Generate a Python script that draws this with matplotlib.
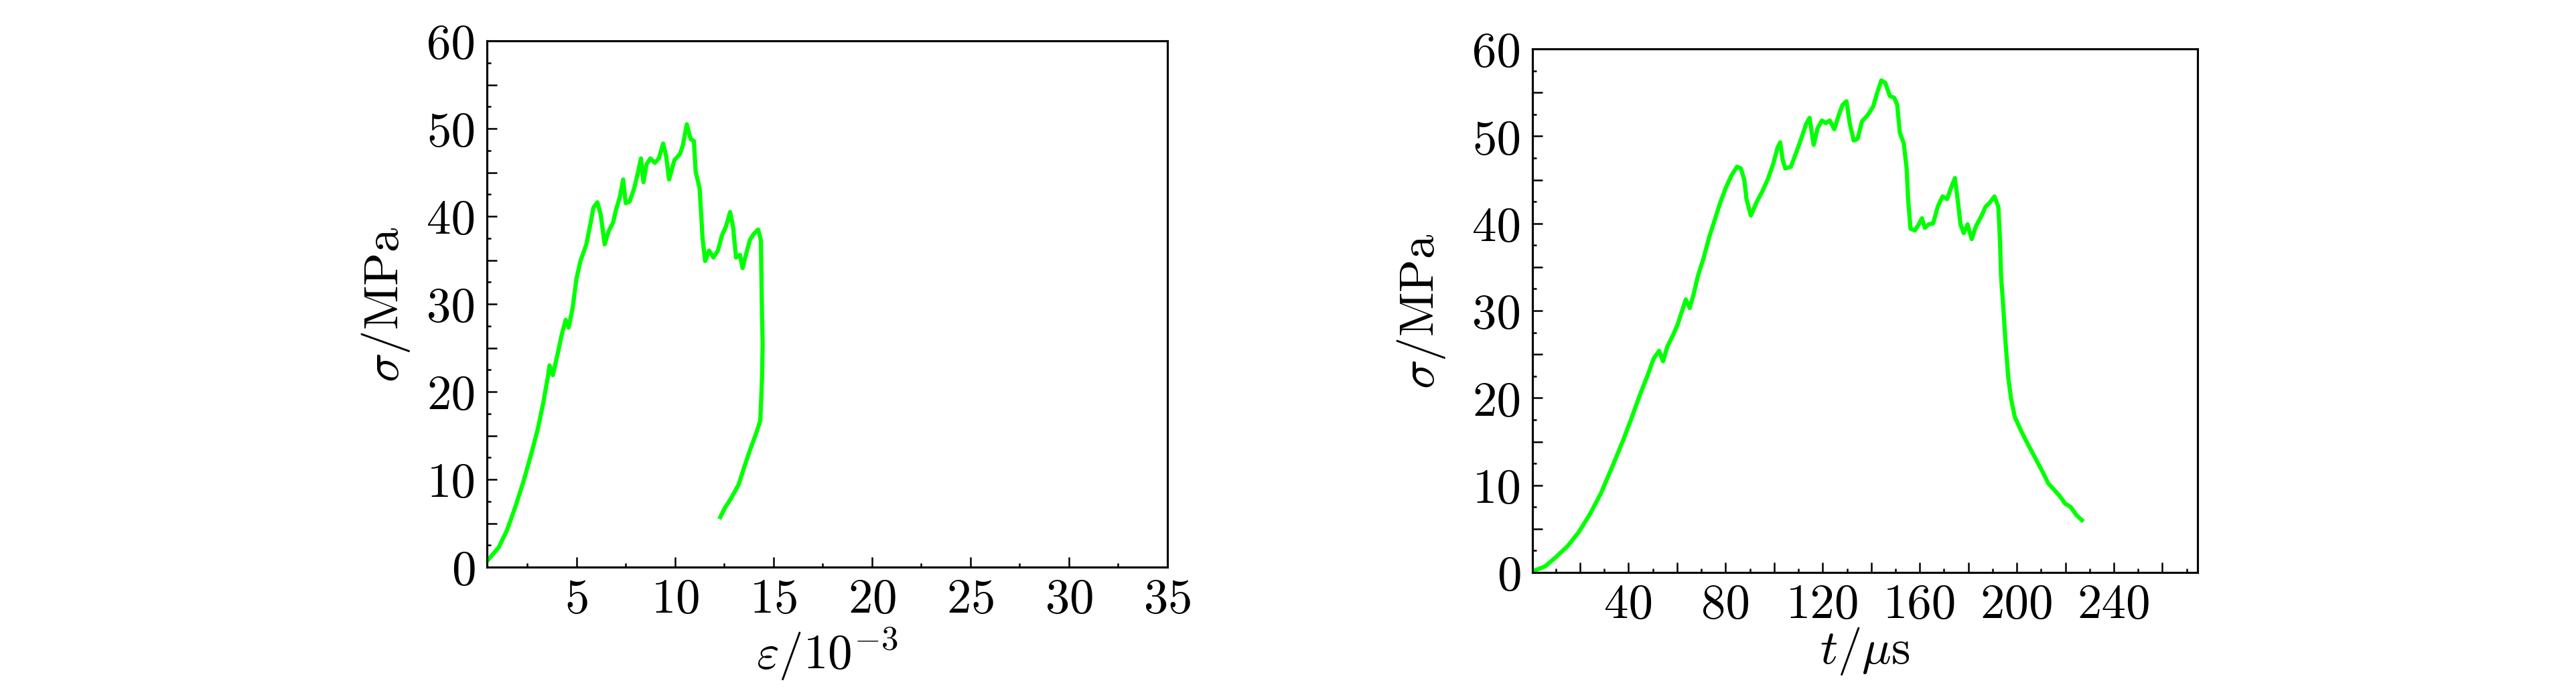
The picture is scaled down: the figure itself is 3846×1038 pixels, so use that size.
import numpy as np
import matplotlib
matplotlib.use("Agg")
import matplotlib.pyplot as plt
from matplotlib.ticker import MultipleLocator, FuncFormatter

plt.rcParams['font.family'] = 'cmr10'
plt.rcParams['mathtext.fontset'] = 'cm'
plt.rcParams['axes.formatter.use_mathtext'] = True

# stress-strain curve (strain in 1e-3, stress in MPa)
strain = [0.5, 1.05, 1.47, 1.9, 2.32, 2.75, 3.03, 3.31, 3.54, 3.63, 3.8, 4.02, 4.25, 4.45, 4.6,
          4.8, 5.0, 5.2, 5.5, 5.72, 5.86, 6.06, 6.23, 6.43, 6.63, 6.86, 7.0, 7.2, 7.37, 7.5,
          7.7, 7.93, 8.13, 8.27, 8.4, 8.55, 8.75, 8.98, 9.18, 9.4, 9.55, 9.7, 9.97, 10.25, 10.4,
          10.6, 10.8, 10.96, 11.05, 11.25, 11.33, 11.4, 11.53, 11.73, 11.95, 12.18, 12.38, 12.58,
          12.8, 12.95, 13.1, 13.3, 13.43, 13.6, 13.8, 14.0, 14.22, 14.36, 14.42, 14.45, 14.42,
          14.33, 14.08, 13.8, 13.5, 13.23, 12.86, 12.52, 12.3]
stress1 = [0.8, 2.25, 4.2, 6.9, 9.85, 13.3, 15.7, 18.7, 21.6, 23.0, 21.9, 24.1, 26.5, 28.2, 27.3,
           29.5, 32.9, 34.9, 36.8, 39.3, 41.0, 41.6, 40.2, 36.8, 38.3, 39.3, 40.7, 42.2, 44.2, 41.5,
           41.7, 43.2, 45.1, 46.6, 43.9, 45.9, 46.6, 46.1, 46.6, 48.3, 46.9, 44.2, 46.4, 47.1, 48.1,
           50.5, 48.8, 48.6, 45.1, 43.2, 40.2, 37.5, 34.9, 36.1, 35.3, 36.1, 37.8, 38.8,
           40.5, 38.8, 35.3, 35.6, 34.1, 35.6, 37.3, 38.0, 38.5, 37.3, 28.5, 25.5, 21.6,
           16.7, 15.0, 13.3, 11.3, 9.4, 7.9, 6.7, 5.7]

# stress-time curve (time in us, stress in MPa)
time = [1.05, 5.6, 10.2, 14.8, 19.4, 23.9, 28.5, 33.1, 37.7, 41.1, 44.6, 48.0, 50.3, 52.6, 54.2,
        56.0, 58.3, 60.2, 62.2, 63.6, 65.2, 67.0, 68.6, 70.9, 73.2, 75.5, 77.8, 80.1, 82.4, 84.7,
        86.3, 87.7, 88.6, 90.4, 92.7, 95.0, 97.3, 99.6, 101.4, 102.5, 103.5, 104.6, 106.9, 109.2,
        111.5, 113.2, 114.6, 116.3, 117.9, 119.7, 121.3, 122.9, 124.8, 126.6, 128.2, 129.8, 131.2,
        132.8, 134.4, 136.2, 138.5, 140.8, 142.6, 144.2, 145.8, 147.7, 149.5, 150.7, 151.8, 153.4,
        154.6, 155.2, 156.2, 158.0, 159.6, 160.9, 162.1, 163.7, 165.5, 167.4, 169.4, 171.3, 172.9,
        174.5, 175.6, 176.8, 178.1, 179.7, 181.4, 183.2, 185.5, 187.1, 188.9, 190.8, 192.4, 193.1,
        193.5, 194.5, 195.4, 196.5, 197.7, 199.2, 201.5, 203.8, 206.1, 208.4, 210.7, 213.0, 215.3,
        217.6, 219.9, 222.2, 224.5, 226.8]
stress2 = [0.2, 0.7, 1.8, 3.0, 4.6, 6.6, 9.0, 12.0, 15.1, 17.6, 20.3, 22.7, 24.5, 25.4, 24.2,
           25.9, 27.2, 28.4, 30.1, 31.3, 30.3, 32.1, 34.0, 36.0, 38.4, 40.4, 42.4, 44.1, 45.5, 46.5,
           46.3, 45.0, 42.8, 40.9, 42.4, 43.6, 45.0, 46.8, 48.7, 49.3, 47.3, 46.3, 46.5, 48.2,
           50.0, 51.4, 52.1, 49.0, 50.9, 51.8, 51.5, 51.8, 50.8, 52.4, 53.6, 54.0, 51.4,
           49.5, 49.7, 51.7, 52.4, 53.4, 55.1, 56.4, 56.1, 54.6, 54.4, 53.6, 50.4, 49.2,
           46.3, 42.8, 39.4, 39.2, 39.9, 40.6, 39.5, 39.9, 40.0, 41.9, 43.1, 42.8, 44.1,
           45.2, 42.8, 39.9, 38.9, 39.9, 38.2, 39.7, 40.9, 41.9, 42.4, 43.1, 41.9, 37.9,
           34.0, 30.1, 26.2, 22.3, 19.8, 17.8, 16.4, 15.1, 13.9, 12.7, 11.5, 10.2, 9.5,
           8.8, 7.9, 7.5, 6.6, 6.0]

fig = plt.figure(figsize=(12.82, 3.463), dpi=300)
ax1 = fig.add_axes([0.1890, 0.1838, 0.2642, 0.7565])
ax2 = fig.add_axes([0.5949, 0.1761, 0.2582, 0.7527])


def every(step):
    return FuncFormatter(lambda v, p: f'{v:g}' if abs(v / step - round(v / step)) < 1e-6 and v > 1e-6 or abs(v) < 1e-6 else '')


fs = 17.5
for ax in (ax1, ax2):
    for s in ax.spines.values():
        s.set_linewidth(0.75)
    ax.tick_params(which='both', direction='in', top=False, right=False, width=0.6, labelsize=fs, pad=4)
    ax.tick_params(which='major', length=3.6)
    ax.tick_params(which='minor', length=1.5)
    ax.set_ylim(0, 60)
    ax.yaxis.set_major_locator(MultipleLocator(5))
    ax.yaxis.set_minor_locator(MultipleLocator(2.5))
    ax.yaxis.set_major_formatter(every(10))

ax1.plot(strain, stress1, color='#00ff00', lw=1.5)
ax1.set_xlim(0.45, 35)
ax1.xaxis.set_major_locator(MultipleLocator(5))
ax1.xaxis.set_minor_locator(MultipleLocator(2.5))
ax1.set_xlabel(r'$\varepsilon/10^{-3}$', fontsize=fs)
ax1.set_ylabel(r'$\sigma$/MPa', fontsize=fs)
ax1.yaxis.set_label_coords(-0.11, 0.5)
ax1.xaxis.set_label_coords(0.5, -0.11)

ax2.plot(time, stress2, color='#00ff00', lw=1.5)
ax2.set_xlim(0.4, 274.5)
ax2.xaxis.set_major_locator(MultipleLocator(20))
ax2.xaxis.set_minor_locator(MultipleLocator(10))
ax2.xaxis.set_major_formatter(every(40))
ax2.set_xlabel(r'$t/\mu\mathrm{s}$', fontsize=fs)
ax2.set_ylabel(r'$\sigma$/MPa', fontsize=fs)
ax2.yaxis.set_label_coords(-0.128, 0.5)
ax2.xaxis.set_label_coords(0.5, -0.10)

fig.savefig('out.png', dpi=300)
